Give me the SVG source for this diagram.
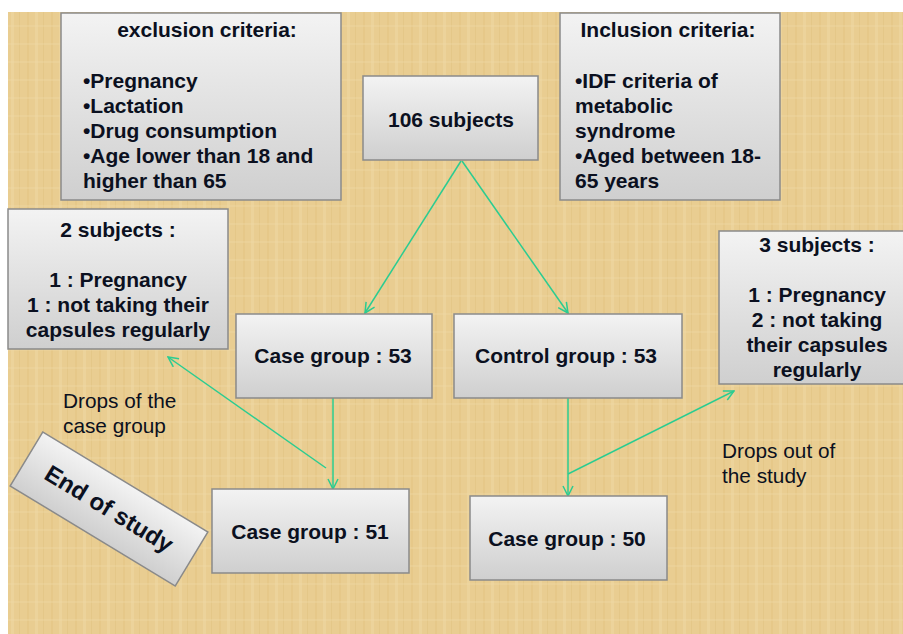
<svg xmlns="http://www.w3.org/2000/svg" width="903" height="634" viewBox="0 0 903 634">
  <defs>
    <linearGradient id="boxg" x1="0" y1="0" x2="0" y2="1">
      <stop offset="0" stop-color="#f3f3f3"/>
      <stop offset="1" stop-color="#cfcfcf"/>
    </linearGradient>
    <pattern id="tex" x="0" y="0" width="24" height="18" patternUnits="userSpaceOnUse">
      <rect width="24" height="18" fill="#e9cd91"/>
      <rect x="3" width="2" height="18" fill="#e2c27f" opacity="0.45"/>
      <rect x="11" width="3" height="18" fill="#f0d9a6" opacity="0.45"/>
      <rect x="19" width="1" height="18" fill="#ddbd7a" opacity="0.4"/>
      <rect y="7" width="24" height="2" fill="#f1dcab" opacity="0.3"/>
    </pattern>
    <marker id="arr" viewBox="0 0 12 12" refX="11" refY="6" markerWidth="12" markerHeight="12" markerUnits="userSpaceOnUse" orient="auto">
      <path d="M1,1 L11,6 L1,11" fill="none" stroke="#2bcc91" stroke-width="1.5"/>
    </marker>
  </defs>
  <style>
    .box { fill: url(#boxg); stroke: #8a8a8a; stroke-width: 1.5; }
    .b { font-family: "Liberation Sans", Arial, sans-serif; font-weight: bold; font-size: 21px; fill: #0b1020; }
    .c { text-anchor: middle; }
    .r { font-family: "Liberation Sans", Arial, sans-serif; font-size: 20.8px; fill: #0b1020; }
    .ln { stroke: #2bcc91; stroke-width: 1.5; fill: none; }
  </style>
  <rect x="0" y="0" width="903" height="634" fill="#ffffff"/>
  <rect x="8" y="12" width="895" height="622" fill="url(#tex)"/>

  <g id="connectors">
    <line class="ln" x1="461" y1="161" x2="365" y2="313" marker-end="url(#arr)"/>
    <line class="ln" x1="462" y1="161" x2="568" y2="313" marker-end="url(#arr)"/>
    <line class="ln" x1="333" y1="398" x2="333" y2="489" marker-end="url(#arr)"/>
    <line class="ln" x1="326" y1="468" x2="168" y2="357" marker-end="url(#arr)"/>
    <line class="ln" x1="568" y1="398" x2="568" y2="496" marker-end="url(#arr)"/>
    <line class="ln" x1="568" y1="474" x2="734" y2="391" marker-end="url(#arr)"/>
  </g>

  <g id="exclusion">
    <rect class="box" x="61" y="13" width="280" height="187"/>
    <text class="b c" x="207" y="37">exclusion criteria:</text>
    <text class="b" x="83" y="88">•Pregnancy</text>
    <text class="b" x="83" y="113">•Lactation</text>
    <text class="b" x="83" y="138">•Drug consumption</text>
    <text class="b" x="83" y="163">•Age lower than 18 and</text>
    <text class="b" x="83" y="188">higher than 65</text>
  </g>

  <g id="subjects106">
    <rect class="box" x="363" y="76" width="175" height="84"/>
    <text class="b c" x="451" y="127">106 subjects</text>
  </g>

  <g id="inclusion">
    <rect class="box" x="560" y="13" width="220" height="187"/>
    <text class="b c" x="668" y="37">Inclusion criteria:</text>
    <text class="b" x="575" y="88">•IDF criteria of</text>
    <text class="b" x="575" y="113">metabolic</text>
    <text class="b" x="575" y="138">syndrome</text>
    <text class="b" x="575" y="163">•Aged between 18-</text>
    <text class="b" x="575" y="188">65 years</text>
  </g>

  <g id="drops-case">
    <rect class="box" x="8" y="209" width="220" height="140"/>
    <text class="b c" x="118" y="237">2 subjects :</text>
    <text class="b c" x="118" y="287">1 : Pregnancy</text>
    <text class="b c" x="118" y="312">1 : not taking their</text>
    <text class="b c" x="118" y="337">capsules regularly</text>
  </g>

  <g id="case53">
    <rect class="box" x="236" y="314" width="196" height="84"/>
    <text class="b c" x="333" y="363">Case group : 53</text>
  </g>

  <g id="control53">
    <rect class="box" x="454" y="314" width="228" height="84"/>
    <text class="b c" x="566" y="363">Control group : 53</text>
  </g>

  <g id="drops-control">
    <rect class="box" x="719" y="231" width="196" height="153"/>
    <text class="b c" x="817" y="252">3 subjects :</text>
    <text class="b c" x="817" y="302">1 : Pregnancy</text>
    <text class="b c" x="817" y="327">2 : not taking</text>
    <text class="b c" x="817" y="352">their capsules</text>
    <text class="b c" x="817" y="377">regularly</text>
  </g>

  <g id="label-drops-case">
    <text class="r" x="63" y="408">Drops of the</text>
    <text class="r" x="63" y="433">case group</text>
  </g>

  <g id="label-drops-study">
    <text class="r" x="722" y="458">Drops out of</text>
    <text class="r" x="722" y="483">the study</text>
  </g>

  <g id="end-of-study" transform="translate(109,509) rotate(31.2)">
    <rect class="box" x="-96.5" y="-31.5" width="193" height="63"/>
    <text class="b c" x="0" y="8" style="font-size:24px">End of study</text>
  </g>

  <g id="case51">
    <rect class="box" x="212" y="489" width="197" height="84"/>
    <text class="b c" x="310" y="539">Case group : 51</text>
  </g>

  <g id="case50">
    <rect class="box" x="470" y="496" width="197" height="84"/>
    <text class="b c" x="567" y="546">Case group : 50</text>
  </g>
</svg>
